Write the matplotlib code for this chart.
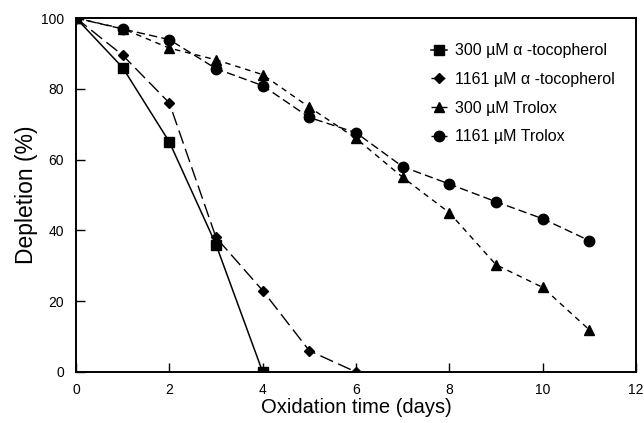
import matplotlib
matplotlib.use("Agg")
import matplotlib.pyplot as plt

plt.rcParams['font.family'] = ['Liberation Sans', 'DejaVu Sans']

days_a = [0, 1, 2, 3, 4]
toc300 = [100, 86, 65, 36, 0]
days_b = [0, 1, 2, 3, 4, 5, 6]
toc1161 = [100, 89.5, 76, 38, 23, 6, 0]
days_c = [0, 1, 2, 3, 4, 5, 6, 7, 8, 9, 10, 11]
tro300 = [100, 97, 91.5, 88.2, 84, 74.8, 66, 55, 45, 30.3, 23.9, 11.9]
tro1161 = [100, 96.9, 93.9, 85.7, 80.9, 71.9, 67.6, 58, 53.1, 48.1, 43.3, 37.1]

labels = ["300 \u00b5M \u03b1 -tocopherol", "1161 \u00b5M \u03b1 -tocopherol",
          "300 \u00b5M Trolox", "1161 \u00b5M Trolox"]

fig = plt.figure(figsize=(6.44, 4.23), dpi=100)
ax = fig.add_axes([0.118, 0.1206, 0.8696, 0.8368])

ax.plot(days_a, toc300, color='black', lw=1.1, ls='-', marker='s', ms=7.5, label=labels[0])
ax.plot(days_b, toc1161, color='black', lw=1.0, dashes=(10, 4), marker='D', ms=5, label=labels[1])
ax.plot(days_c, tro300, color='black', lw=1.0, dashes=(4, 3.5), marker='^', ms=7, label=labels[2])
ax.plot(days_c, tro1161, color='black', lw=1.0, dashes=(6, 3), marker='o', ms=7.5, label=labels[3])

ax.set_xlim(0, 12)
ax.set_ylim(0, 100)
ax.set_xticks(range(0, 13, 2))
ax.set_yticks(range(0, 101, 20))
ax.tick_params(direction='in', length=6.5, width=1, labelsize=10, top=False, right=False)
ax.tick_params(axis='y', pad=8.5)
ax.tick_params(axis='x', pad=8)
for s in ax.spines.values():
    s.set_linewidth(1.4)
ax.set_xlabel("Oxidation time (days)", fontsize=14.5, labelpad=1)
ax.set_ylabel("Depletion (%)", fontsize=16.5, labelpad=2)

leg = ax.legend(loc='upper left', bbox_to_anchor=(0.608, 0.969), frameon=False,
                fontsize=11.5, handlelength=1.0, handletextpad=0.5, labelspacing=0.85)

fig.savefig("out.png", dpi=100)
